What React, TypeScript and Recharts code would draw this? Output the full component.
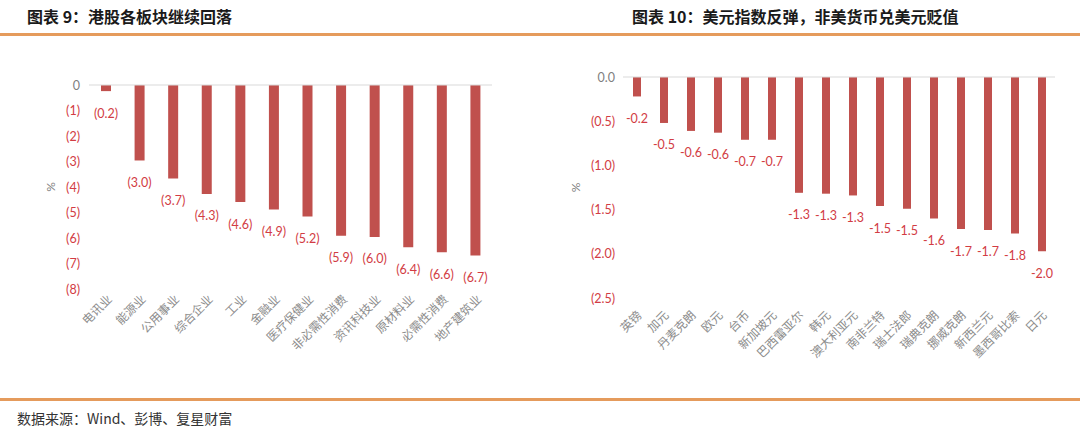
import React from "react";
import { BarChart, Bar, XAxis, YAxis, ReferenceLine, LabelList } from "recharts";

const sectors = ["电讯业", "能源业", "公用事业", "综合企业", "工业", "金融业", "医疗保健业", "非必需性消费", "资讯科技业", "原材料业", "必需性消费", "地产建筑业"];
const sectorValues = [-0.24, -2.96, -3.67, -4.27, -4.59, -4.88, -5.16, -5.91, -5.96, -6.36, -6.56, -6.69];
const sectorTicks = [0, -1, -2, -3, -4, -5, -6, -7, -8];

const currencies = ["英镑", "加元", "丹麦克朗", "欧元", "台币", "新加坡元", "巴西雷亚尔", "韩元", "澳大利亚元", "南非兰特", "瑞士法郎", "瑞典克朗", "挪威克朗", "新西兰元", "墨西哥比索", "日元"];
const currencyValues = [-0.22, -0.52, -0.61, -0.63, -0.71, -0.71, -1.31, -1.32, -1.34, -1.46, -1.49, -1.6, -1.72, -1.73, -1.77, -1.97];
const currencyTicks = [0, -0.5, -1, -1.5, -2, -2.5];

const leftTitle = "图表 9：港股各板块继续回落";
const rightTitle = "图表 10：美元指数反弹，非美货币兑美元贬值";
const sourceText = "数据来源：Wind、彭博、复星财富";

const leftData = sectors.map((name, i) => ({ name, value: sectorValues[i] }));
const rightData = currencies.map((name, i) => ({ name, value: currencyValues[i] }));

const BAR = "#C0504D";
const RED_TEXT = "#D23C44";
const GREY = "#7F7F7F";
const NUM_FONT = "Lato, 'Open Sans', sans-serif";
const CJK = "'Noto Sans CJK SC', sans-serif";

const makeYTick = (fmt: (v: number) => string, dx: number) => (props: any) => {
  const { x, y, payload } = props;
  const v = payload.value as number;
  return (
    <text x={x + dx} y={y} textAnchor="end" dominantBaseline="central" fontSize={12.5} fontFamily={NUM_FONT} fill={v === 0 ? GREY : RED_TEXT}>
      {fmt(v)}
    </text>
  );
};

const makeXTick = (dx: number, dy: number) => (props: any) => {
  const { x, y, payload } = props;
  return (
    <g transform={`translate(${x + dx},${y + dy})`}>
      <text x={0} y={0} textAnchor="end" transform="rotate(-45)" fontSize={12} fontFamily={CJK} fill="#8C8C8C">
        {payload.value}
      </text>
    </g>
  );
};

const makeBarLabel = (fmt: (v: number) => string) => (props: any) => {
  const { x, y, width, height, value } = props;
  const end = Math.max(y, y + height);
  return (
    <text x={x + width / 2} y={end + 22} textAnchor="middle" dominantBaseline="central" fontSize={12.5} fontFamily={NUM_FONT} fill={RED_TEXT}>
      {fmt(value)}
    </text>
  );
};

const leftFmtTick = (v: number) => (v === 0 ? "0" : `(${Math.abs(v)})`);
const rightFmtTick = (v: number) => (v === 0 ? "0.0" : `(${Math.abs(v).toFixed(1)})`);
const leftFmtLabel = (v: number) => `(${Math.abs(v).toFixed(1)})`;
const rightFmtLabel = (v: number) => v.toFixed(1);

const PercentLabel = (xPos: number) => (props: any) => {
  const { viewBox } = props;
  const cy = viewBox.y + viewBox.height / 2;
  return (
    <text x={xPos} y={cy} textAnchor="middle" dominantBaseline="central" transform={`rotate(-90, ${xPos}, ${cy})`} fontSize={12} fontFamily={NUM_FONT} fill={GREY}>
      %
    </text>
  );
};

export default function App() {
  return (
    <div style={{ position: "absolute", left: 0, top: 0, width: 1080, height: 432, background: "#fff", overflow: "hidden" }}>
      <div style={{ position: "absolute", left: 27, top: 4, fontFamily: CJK, fontWeight: 700, fontSize: 16, color: "#1a1a1a", whiteSpace: "nowrap" }}>{leftTitle}</div>
      <div style={{ position: "absolute", left: 632, top: 4, fontFamily: CJK, fontWeight: 700, fontSize: 16, color: "#1a1a1a", whiteSpace: "nowrap" }}>{rightTitle}</div>
      <div style={{ position: "absolute", left: 0, top: 33, width: 1080, height: 3, background: "#E59B5C" }} />
      <div style={{ position: "absolute", left: 0, top: 398, width: 1080, height: 3, background: "#E59B5C" }} />
      <div style={{ position: "absolute", left: 17, top: 408, fontFamily: CJK, fontSize: 14, color: "#333", whiteSpace: "nowrap" }}>{sourceText}</div>

      <div style={{ position: "absolute", left: 0, top: 0 }}>
        <BarChart width={540} height={400} data={leftData} margin={{ top: 85, right: 48, left: 29, bottom: 31 }} barSize={10}>
          <XAxis dataKey="name" axisLine={false} tickLine={false} interval={0} height={80} tick={makeXTick(7, 3)} />
          <YAxis domain={[-8, 0]} ticks={sectorTicks} axisLine={false} tickLine={false} width={60} tick={makeYTick(leftFmtTick, -1)} label={PercentLabel(50)} />
          <ReferenceLine y={0} stroke="#D9D9D9" strokeWidth={1} />
          <Bar dataKey="value" fill={BAR} isAnimationActive={false}>
            <LabelList dataKey="value" content={makeBarLabel(leftFmtLabel)} />
          </Bar>
        </BarChart>
      </div>

      <div style={{ position: "absolute", left: 540, top: 0 }}>
        <BarChart width={540} height={400} data={rightData} margin={{ top: 77, right: 25, left: 23, bottom: 22 }} barSize={8}>
          <XAxis dataKey="name" axisLine={false} tickLine={false} interval={0} height={80} tick={makeXTick(6, 10)} />
          <YAxis domain={[-2.5, 0]} ticks={currencyTicks} axisLine={false} tickLine={false} width={60} tick={makeYTick(rightFmtTick, 0)} label={PercentLabel(35)} />
          <ReferenceLine y={0} stroke="#D9D9D9" strokeWidth={1} />
          <Bar dataKey="value" fill={BAR} isAnimationActive={false}>
            <LabelList dataKey="value" content={makeBarLabel(rightFmtLabel)} />
          </Bar>
        </BarChart>
      </div>
    </div>
  );
}
